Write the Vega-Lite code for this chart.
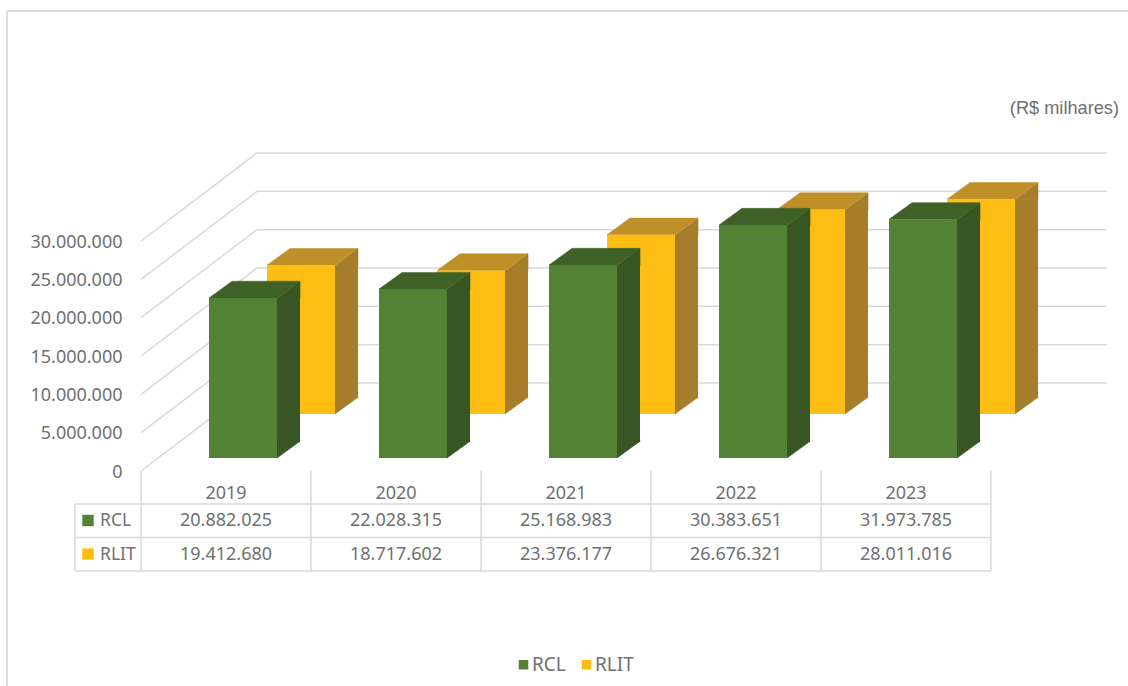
{
"$schema":"https://vega.github.io/schema/vega-lite/v6.json",
"width":850,"height":230,
"autosize":{"type":"none"},
"padding":{"left":141,"top":241,"right":137,"bottom":215},
"background":"white",
"resolve":{"axis":{"x":"independent","y":"independent"}},
"config":{"view":{"stroke":null},"font":"Noto Sans","locale":{"number":{"decimal":",","thousands":".","grouping":[3],"currency":["R$ ",""]}}},
"datasets":{
"rows":[
{"year":"2019","series":"RCL","value":20882025,"drawn":20882025},
{"year":"2020","series":"RCL","value":22028315,"drawn":22028315},
{"year":"2021","series":"RCL","value":25168983,"drawn":25168983},
{"year":"2022","series":"RCL","value":30383651,"drawn":30383651},
{"year":"2023","series":"RCL","value":31973785,"drawn":31130000},
{"year":"2019","series":"RLIT","value":19412680,"drawn":19412680},
{"year":"2020","series":"RLIT","value":18717602,"drawn":18717602},
{"year":"2021","series":"RLIT","value":23376177,"drawn":23376177},
{"year":"2022","series":"RLIT","value":26676321,"drawn":26676321},
{"year":"2023","series":"RLIT","value":28011016,"drawn":28011016}
],
"ticks":[{"tick":0},{"tick":5000000},{"tick":10000000},{"tick":15000000},{"tick":20000000},{"tick":25000000},{"tick":30000000}],
"one":[{"note":"(R$ milhares)"}],
"rcl":[{"series":"RCL"}],
"rlit":[{"series":"RLIT"}]
},
"layer":[
{"data":{"name":"one"},
 "mark":{"type":"point","size":4,"filled":false,"opacity":1,"stroke":"#dcdcdc","strokeWidth":2,"shape":"M-134 -460 H987 M-134 -460 V215"},
 "encoding":{"x":{"datum":"2019","type":"nominal","bandPosition":0,"scale":{"type":"band","domain":["2019","2020","2021","2022","2023"],"paddingInner":0,"paddingOuter":0},"axis":{"title":null,"domain":false,"ticks":false,"labelAngle":0,"labelFontSize":18,"labelColor":"#707070","labelBaseline":"middle","labelPadding":22}},
 "y":{"datum":0,"type":"quantitative","scale":{"domain":[0,30000000],"nice":false,"zero":true},"axis":{"title":null,"domain":false,"ticks":false,"grid":false,"values":[0,5000000,10000000,15000000,20000000,25000000,30000000],"format":",d","labelFontSize":18,"labelColor":"#707070","labelPadding":19,"labelOffset":1}}}},
{"data":{"name":"ticks"},
 "mark":{"type":"point","size":4,"filled":false,"opacity":1,"stroke":"#d9d9d9","strokeWidth":1.5,"shape":"M0 0 L116 -88 L966 -88"},
 "encoding":{"x":{"datum":"2019","type":"nominal","bandPosition":0,"axis":null},"y":{"field":"tick","type":"quantitative","axis":null}}},
{"data":{"name":"one"},
 "mark":{"type":"point","size":4,"filled":false,"opacity":1,"stroke":"#d9d9d9","strokeWidth":1.5,"shape":"M-66 33 H850 M-66 66.5 H850 M-66 100 H850 M-66 33 V100 M0 0 V100 M170 0 V100 M340 0 V100 M510 0 V100 M680 0 V100 M850 0 V100"},
 "encoding":{"x":{"datum":"2019","type":"nominal","bandPosition":0,"axis":null},"y":{"datum":0,"type":"quantitative","axis":null}}},

{"data":{"name":"rows"},"transform":[{"filter":"datum.series==='RLIT'"}],
 "mark":{"type":"bar","size":23,"xOffset":120.5,"yOffset":-57,"y2Offset":-73,"color":"#A57D2B"},
 "encoding":{"x":{"field":"year","type":"nominal","axis":null},"y":{"field":"drawn","type":"quantitative","axis":null},"y2":{"datum":0}}},
{"data":{"name":"rows"},"transform":[{"filter":"datum.series==='RLIT'"}],
 "mark":{"type":"point","size":4,"filled":true,"opacity":1,"fill":"#A57D2B","stroke":"#A57D2B","strokeWidth":0.6,"xOffset":75,"yOffset":-57,"shape":"M34 0.5 L57 -16.7 L57 0.5 Z"},
 "encoding":{"x":{"field":"year","type":"nominal","axis":null},"y":{"field":"drawn","type":"quantitative","axis":null}}},
{"data":{"name":"rows"},"transform":[{"filter":"datum.series==='RLIT'"}],
 "mark":{"type":"point","size":4,"filled":true,"opacity":1,"fill":"#A57D2B","stroke":"#A57D2B","strokeWidth":0.6,"xOffset":75,"yOffset":-57,"shape":"M34 0 L57 -16.7 L57 -17.5 L34 -17.5 Z"},
 "encoding":{"x":{"field":"year","type":"nominal","axis":null},"y":{"datum":0,"type":"quantitative","axis":null}}},
{"data":{"name":"rows"},"transform":[{"filter":"datum.series==='RLIT'"}],
 "mark":{"type":"point","size":4,"filled":true,"opacity":1,"fill":"#BF9027","stroke":"#BF9027","strokeWidth":0.5,"xOffset":75,"yOffset":-57,"shape":"M-34 0 L34 0 L57 -16.7 L-11 -16.7 Z"},
 "encoding":{"x":{"field":"year","type":"nominal","axis":null},"y":{"field":"drawn","type":"quantitative","axis":null}}},
{"data":{"name":"rows"},"transform":[{"filter":"datum.series==='RLIT'"}],
 "mark":{"type":"bar","size":68,"xOffset":75,"yOffset":-57,"y2Offset":-57},
 "encoding":{"x":{"field":"year","type":"nominal","axis":null},"y":{"field":"drawn","type":"quantitative","axis":null},"y2":{"datum":0},
 "color":{"field":"series","type":"nominal","scale":{"domain":["RCL","RLIT"],"range":["#548235","#FDBD12"]},"legend":{"title":null,"orient":"none","legendX":373,"legendY":414,"direction":"horizontal","symbolType":"square","symbolSize":90,"labelFontSize":19,"labelColor":"#707070","labelOffset":-1,"columnPadding":11}}}},

{"data":{"name":"rows"},"transform":[{"filter":"datum.series==='RCL'"}],
 "mark":{"type":"bar","size":23,"xOffset":62.5,"yOffset":-13,"y2Offset":-29,"color":"#375623"},
 "encoding":{"x":{"field":"year","type":"nominal","axis":null},"y":{"field":"drawn","type":"quantitative","axis":null},"y2":{"datum":0}}},
{"data":{"name":"rows"},"transform":[{"filter":"datum.series==='RCL'"}],
 "mark":{"type":"point","size":4,"filled":true,"opacity":1,"fill":"#375623","stroke":"#375623","strokeWidth":0.6,"xOffset":17,"yOffset":-13,"shape":"M34 0.5 L57 -16.7 L57 0.5 Z"},
 "encoding":{"x":{"field":"year","type":"nominal","axis":null},"y":{"field":"drawn","type":"quantitative","axis":null}}},
{"data":{"name":"rows"},"transform":[{"filter":"datum.series==='RCL'"}],
 "mark":{"type":"point","size":4,"filled":true,"opacity":1,"fill":"#375623","stroke":"#375623","strokeWidth":0.6,"xOffset":17,"yOffset":-13,"shape":"M34 0 L57 -16.7 L57 -17.5 L34 -17.5 Z"},
 "encoding":{"x":{"field":"year","type":"nominal","axis":null},"y":{"datum":0,"type":"quantitative","axis":null}}},
{"data":{"name":"rows"},"transform":[{"filter":"datum.series==='RCL'"}],
 "mark":{"type":"point","size":4,"filled":true,"opacity":1,"fill":"#3F6128","stroke":"#3F6128","strokeWidth":0.5,"xOffset":17,"yOffset":-13,"shape":"M-34 0 L34 0 L57 -16.7 L-11 -16.7 Z"},
 "encoding":{"x":{"field":"year","type":"nominal","axis":null},"y":{"field":"drawn","type":"quantitative","axis":null}}},
{"data":{"name":"rows"},"transform":[{"filter":"datum.series==='RCL'"}],
 "mark":{"type":"bar","size":68,"xOffset":17,"yOffset":-13,"y2Offset":-13},
 "encoding":{"x":{"field":"year","type":"nominal","axis":null},"y":{"field":"drawn","type":"quantitative","axis":null},"y2":{"datum":0},
 "color":{"field":"series","type":"nominal"}}},

{"data":{"name":"rows"},"transform":[{"filter":"datum.series==='RCL'"}],
 "mark":{"type":"text","fontSize":18,"color":"#707070","yOffset":50},
 "encoding":{"x":{"field":"year","type":"nominal","axis":null},"y":{"datum":0,"type":"quantitative","axis":null},"text":{"field":"value","type":"quantitative","format":",d"}}},
{"data":{"name":"rows"},"transform":[{"filter":"datum.series==='RLIT'"}],
 "mark":{"type":"text","fontSize":18,"color":"#707070","yOffset":83.5},
 "encoding":{"x":{"field":"year","type":"nominal","axis":null},"y":{"datum":0,"type":"quantitative","axis":null},"text":{"field":"value","type":"quantitative","format":",d"}}},
{"data":{"name":"rcl"},
 "mark":{"type":"text","fontSize":17.5,"color":"#707070","align":"left","xOffset":-41,"yOffset":50},
 "encoding":{"x":{"datum":"2019","type":"nominal","bandPosition":0,"axis":null},"y":{"datum":0,"type":"quantitative","axis":null},"text":{"field":"series"}}},
{"data":{"name":"rlit"},
 "mark":{"type":"text","fontSize":17.5,"color":"#707070","align":"left","xOffset":-41,"yOffset":83.5},
 "encoding":{"x":{"datum":"2019","type":"nominal","bandPosition":0,"axis":null},"y":{"datum":0,"type":"quantitative","axis":null},"text":{"field":"series"}}},
{"data":{"name":"rcl"},
 "mark":{"type":"point","shape":"square","filled":true,"opacity":1,"size":130,"xOffset":-53,"yOffset":49.5},
 "encoding":{"x":{"datum":"2019","type":"nominal","bandPosition":0,"axis":null},"y":{"datum":0,"type":"quantitative","axis":null},"color":{"field":"series","type":"nominal"}}},
{"data":{"name":"rlit"},
 "mark":{"type":"point","shape":"square","filled":true,"opacity":1,"size":130,"xOffset":-53,"yOffset":83},
 "encoding":{"x":{"datum":"2019","type":"nominal","bandPosition":0,"axis":null},"y":{"datum":0,"type":"quantitative","axis":null},"color":{"field":"series","type":"nominal"}}},
{"data":{"name":"one"},
 "mark":{"type":"text","font":"Liberation Sans","fontSize":18.2,"color":"#707070","align":"right","xOffset":128,"yOffset":-132},
 "encoding":{"x":{"datum":"2023","type":"nominal","bandPosition":1,"axis":null},"y":{"datum":30000000,"type":"quantitative","axis":null},"text":{"field":"note"}}}
]
}
